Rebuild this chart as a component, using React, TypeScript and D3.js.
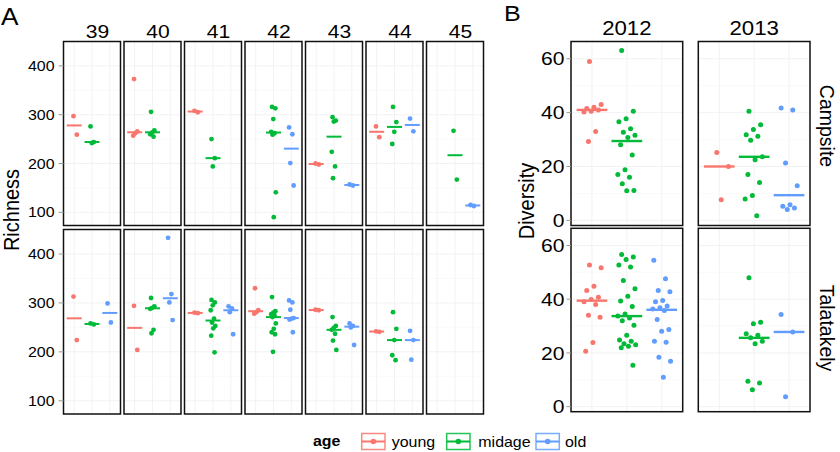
import React from "react";
import * as d3 from "d3";

// ---------- data ----------
const ageGroups = ["young", "midage", "old"];
const ageColors = ["#F8766D", "#00BA38", "#619CFF"];

const weeks = ["39", "40", "41", "42", "43", "44", "45"];
// Richness, top row: per week [young, midage, old]
const richnessTop: number[][][] = [
  [[297, 259], [276, 244, 242], []],
  [[373, 266, 262, 257], [306, 268, 264, 260, 255], []],
  [[308, 305], [250, 211, 194], []],
  [[], [316, 313, 291, 265, 262, 259, 141, 90], [274, 260, 201, 155]],
  [[200, 198], [295, 288, 286, 224, 194, 170], [157, 155]],
  [[276, 254], [316, 285, 265, 240], [292, 266]],
  [[], [267, 167], [115, 113]],
];
// Richness, bottom row
const richnessBottom: number[][][] = [
  [[313, 224], [258, 256], [299, 260]],
  [[294, 204], [310, 293, 290, 288, 245, 238], [433, 318, 301, 265]],
  [[280, 279], [306, 301, 295, 285, 268, 260, 253, 248, 233, 199], [293, 289, 281, 236]],
  [[330, 285, 281, 278], [312, 283, 280, 277, 274, 271, 258, 247, 240, 236, 200], [305, 301, 286, 269, 268, 266, 240]],
  [[286, 285], [271, 253, 249, 245, 237, 223, 204], [258, 253, 250, 214]],
  [[242, 241], [281, 247, 224, 193, 183], [243, 224, 184]],
  [[], [], []],
];
const richnessTicks = [100, 200, 300, 400];
const richnessMinor = [150, 250, 350];

const years = ["2012", "2013"];
const sites = ["Campsite", "Talatakely"];
// Diversity: [year][age]
const diversityCampsite: number[][][] = [
  [
    [59, 43, 42, 41.5, 41, 40.5, 40.2, 33, 29.3],
    [63.1, 40.5, 37.7, 36.6, 34, 32.7, 31.6, 30.8, 28.1, 24.3, 18.8, 17, 16, 13.6, 11.1, 11],
    [],
  ],
  [
    [25.2, 20, 7.7],
    [40.5, 35.5, 33.7, 31.8, 31.2, 29.7, 23.6, 22.5, 17, 14.1, 9.2, 7.9, 1.7],
    [41.7, 41, 21.3, 12.9, 5.8, 5.2, 4.6, 4],
  ],
];
const diversityTalatakely: number[][][] = [
  [
    [52.7, 51.7, 44.8, 43.2, 40.7, 39.9, 39, 38, 34, 33.3, 23.9, 20.6],
    [56.6, 55.7, 54.8, 52.7, 52, 47, 43.9, 41.1, 39.3, 37.3, 34.5, 33.7, 33, 32, 30.3, 26.6, 24.8, 24.3, 23.4, 23.0, 22.5, 21.9, 15.4],
    [54.5, 47.6, 43.2, 42.8, 39.5, 39, 37.5, 36.8, 36.3, 35.8, 32.4, 28.7, 28.1, 24.3, 24, 18.4, 16.9, 10.9],
  ],
  [
    [],
    [48, 31.4, 30.9, 27.1, 26.6, 25.6, 24.3, 23.4, 9.4, 8.8, 6.3],
    [34.3, 27.8, 3.7],
  ],
];
const diversityTicks = [0, 20, 40, 60];
const diversityMinor = [10, 30, 50];

// ---------- layout ----------
const W = 840, H = 452;
const SX = 1.14;
const FONT = "'Liberation Sans', Arial, Helvetica, sans-serif";

const A_X0 = 63.5, A_PW = 57, A_GAP = 3.5;
const A_ROWS = [[41.5, 225.5], [229.5, 414]];
const B_COLS = [[571, 682.7], [698.3, 810]];
const B_ROWS = [[41.5, 225.5], [228.3, 411.7]];

function jit(i: number) {
  const f = (i * 0.6180339887 + 0.37) % 1;
  return (f - 0.5) * 2;
}

function Txt(props: any) {
  const { x, y, size, anchor = "start", weight = "normal", rot = 0, sx = SX, children } = props;
  const tf = rot
    ? `translate(${x},${y}) rotate(${rot}) scale(1,${sx})`
    : `translate(${x},${y}) scale(${sx},1)`;
  return (
    <text transform={tf} fontSize={size} textAnchor={anchor} fontWeight={weight} fontFamily={FONT} fill="#000">
      {children}
    </text>
  );
}

function Panel(props: any) {
  const { x0, x1, y0, y1, domain, groups, ticks, minor, jitAmp, lineW, halfW, r } = props;
  const x = d3.scalePoint().domain(ageGroups).range([x0, x1]).padding(0.6);
  const unit = x.step();
  const y = d3.scaleLinear().domain(domain).range([y1, y0]);
  return (
    <g>
      <rect x={x0} y={y0} width={x1 - x0} height={y1 - y0} fill="#fff" />
      {minor.map((t: number) => (
        <line key={"m" + t} x1={x0} x2={x1} y1={y(t)} y2={y(t)} stroke="#f7f7f7" strokeWidth={0.6} />
      ))}
      {ticks.map((t: number) => (
        <line key={"t" + t} x1={x0} x2={x1} y1={y(t)} y2={y(t)} stroke="#f1f1f1" strokeWidth={0.9} />
      ))}
      {ageGroups.map((g) => (
        <line key={"v" + g} x1={x(g)} x2={x(g)} y1={y0} y2={y1} stroke="#f1f1f1" strokeWidth={0.9} />
      ))}
      {groups.map((vals: number[], gi: number) => {
        if (!vals.length) return null;
        const cx = x(ageGroups[gi]) as number;
        const med = d3.median(vals) as number;
        return (
          <g key={"g" + gi}>
            <line x1={cx - halfW * unit} x2={cx + halfW * unit} y1={y(med)} y2={y(med)} stroke={ageColors[gi]} strokeWidth={lineW} />
            {vals.map((v, i) => (
              <circle key={i} cx={cx + jit(i + gi * 3) * jitAmp * unit} cy={y(v)} r={r} fill={ageColors[gi]} />
            ))}
          </g>
        );
      })}
      <rect x={x0} y={y0} width={x1 - x0} height={y1 - y0} fill="none" stroke="#111" strokeWidth={1.5} />
    </g>
  );
}

export default function App() {
  const aDomain = [73, 450];
  const bDomain = [-1.9, 66.4];
  const legendItems = [
    { k: 361.7, t: 391.7 },
    { k: 446.7, t: 478.3 },
    { k: 536, t: 565 },
  ];
  return (
    <svg width={W} height={H} style={{ position: "absolute", left: 0, top: 0, display: "block", background: "#fff" }}>
      <rect width={W} height={H} fill="#fff" />
      {/* ---------- A ---------- */}
      <Txt x={1} y={25} size={23}>A</Txt>
      {weeks.map((wk, wi) => {
        const x0 = A_X0 + wi * (A_PW + A_GAP);
        return (
          <g key={wk}>
            <Txt x={x0 + A_PW / 2 + 5.5} y={38.3} size={18.5} anchor="middle">{wk}</Txt>
            {[richnessTop, richnessBottom].map((rows, ri) => (
              <Panel
                key={ri}
                x0={x0}
                x1={x0 + A_PW}
                y0={A_ROWS[ri][0]}
                y1={A_ROWS[ri][1]}
                domain={aDomain}
                groups={rows[wi]}
                ticks={richnessTicks}
                minor={richnessMinor}
                jitAmp={0.15}
                lineW={2}
                halfW={0.42}
                r={2.4}
              />
            ))}
          </g>
        );
      })}
      {A_ROWS.map(([y0, y1], ri) => {
        const y = d3.scaleLinear().domain(aDomain).range([y1, y0]);
        return (
          <g key={"ay" + ri}>
            {richnessTicks.map((t) => (
              <g key={t}>
                <line x1={58.5} x2={A_X0} y1={y(t)} y2={y(t)} stroke="#999" strokeWidth={1} />
                <Txt x={54.5} y={y(t) + 5} size={14} anchor="end">{t}</Txt>
              </g>
            ))}
          </g>
        );
      })}
      <Txt x={18.5} y={210} size={20} sx={1.08} anchor="middle" rot={-90}>Richness</Txt>

      {/* ---------- B ---------- */}
      <Txt x={504} y={21} size={22}>B</Txt>
      {years.map((yr, yi) => {
        const [x0, x1] = B_COLS[yi];
        return (
          <g key={yr}>
            <Txt x={(x0 + x1) / 2} y={35} size={19.5} anchor="middle">{yr}</Txt>
            {[diversityCampsite, diversityTalatakely].map((site, si) => (
              <Panel
                key={si}
                x0={x0}
                x1={x1}
                y0={B_ROWS[si][0]}
                y1={B_ROWS[si][1]}
                domain={bDomain}
                groups={site[yi]}
                ticks={diversityTicks}
                minor={diversityMinor}
                jitAmp={0.27}
                lineW={2.4}
                halfW={0.44}
                r={2.5}
              />
            ))}
          </g>
        );
      })}
      {B_ROWS.map(([y0, y1], ri) => {
        const y = d3.scaleLinear().domain(bDomain).range([y1, y0]);
        return (
          <g key={"by" + ri}>
            {diversityTicks.map((t) => (
              <g key={t}>
                <line x1={566.5} x2={B_COLS[0][0]} y1={y(t)} y2={y(t)} stroke="#999" strokeWidth={1} />
                <Txt x={564.5} y={y(t) + 6.7} size={18.5} anchor="end">{t}</Txt>
              </g>
            ))}
          </g>
        );
      })}
      <Txt x={533.5} y={201} size={20} sx={1.08} anchor="middle" rot={-90}>Diversity</Txt>
      <Txt x={819.5} y={126} size={19.5} sx={1.05} anchor="middle" rot={90}>{sites[0]}</Txt>
      <Txt x={819.5} y={328} size={19.5} sx={1.05} anchor="middle" rot={90}>{sites[1]}</Txt>

      {/* ---------- legend ---------- */}
      <Txt x={313} y={446} size={14} weight="bold">age</Txt>
      {ageGroups.map((g, gi) => {
        const it = legendItems[gi];
        return (
          <g key={g}>
            <rect x={it.k} y={433.5} width={23.3} height={16} fill="#fff" stroke={ageColors[gi]} strokeOpacity={0.85} strokeWidth={1.5} />
            <line x1={it.k} x2={it.k + 23.3} y1={441.5} y2={441.5} stroke={ageColors[gi]} strokeWidth={2} />
            <circle cx={it.k + 11.65} cy={441.5} r={2.8} fill={ageColors[gi]} />
            <Txt x={it.t} y={446.5} size={14}>{g}</Txt>
          </g>
        );
      })}
    </svg>
  );
}
